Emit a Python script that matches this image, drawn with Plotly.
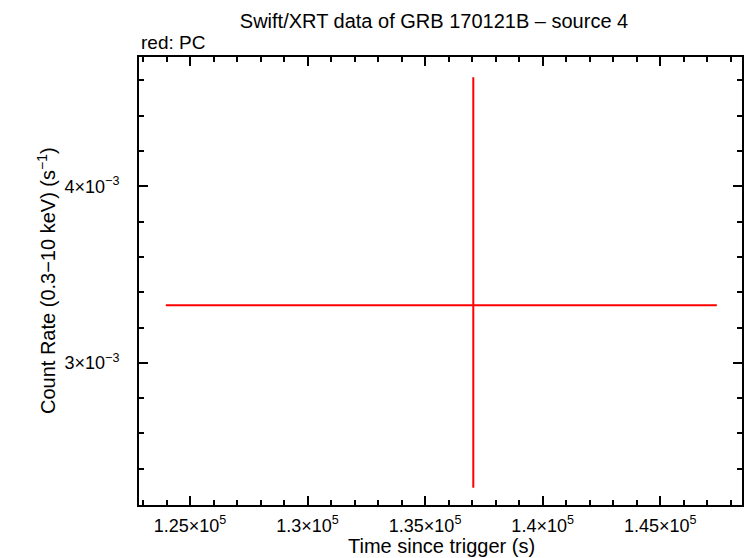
import plotly.graph_objects as go

# Data (single PC-mode bin)
time_s = [137050]
time_err_plus = [10360]
time_err_minus = [13080]
rate = [3.326e-3]
rate_err_plus = [1.291e-3]
rate_err_minus = [1.033e-3]

x_tickvals = [125000, 130000, 135000, 140000, 145000]
x_ticktext = ["1.25×10<sup>5</sup>", "1.3×10<sup>5</sup>", "1.35×10<sup>5</sup>",
              "1.4×10<sup>5</sup>", "1.45×10<sup>5</sup>"]
y_tickvals = [3e-3, 4e-3]
y_ticktext = ["3×10<sup>−3</sup>", "4×10<sup>−3</sup>"]

FONT = "Liberation Sans, Arial, Helvetica, sans-serif"

W, H = 746, 558
L, R, T, B = 139, 4, 57, 53
PW, PH = W - L - R, H - T - B

fig = go.Figure()
fig.add_trace(go.Scatter(
    x=time_s, y=rate, mode="markers",
    marker=dict(size=1, color="red"),
    error_x=dict(type="data", symmetric=False, array=time_err_plus,
                 arrayminus=time_err_minus, color="red", thickness=2, width=0),
    error_y=dict(type="data", symmetric=False, array=rate_err_plus,
                 arrayminus=rate_err_minus, color="red", thickness=2, width=0),
    showlegend=False,
    hoverinfo="skip",
))

axis_common = dict(
    showgrid=False, zeroline=False, showline=True, linecolor="black",
    linewidth=2, ticks="inside", tickcolor="black", tickwidth=2,
    ticklen=9, mirror="allticks",
    tickfont=dict(family=FONT, size=18, color="black"),
)

fig.update_xaxes(
    **axis_common,
    range=[122830, 148480],
    tickmode="array", tickvals=x_tickvals, ticktext=x_ticktext,
    ticklabelstandoff=3,
    minor=dict(tickmode="linear", tick0=0, dtick=1000, ticks="inside",
               ticklen=5, tickwidth=2, tickcolor="black"),
)
fig.update_yaxes(
    **axis_common,
    range=[2.195e-3, 4.732e-3],
    tickmode="array", tickvals=y_tickvals, ticktext=y_ticktext,
    ticklabelstandoff=14,
    minor=dict(tickmode="linear", tick0=0, dtick=0.0002, ticks="inside",
               ticklen=5, tickwidth=2, tickcolor="black"),
)

fig.update_layout(
    width=W, height=H,
    margin=dict(l=L, r=R, t=T, b=B, autoexpand=False),
    paper_bgcolor="white", plot_bgcolor="white",
    font=dict(family=FONT, color="black"),
    title=dict(text="Swift/XRT data of GRB 170121B – source 4", x=434 / W, xanchor="center",
               y=1 - 20.5 / H, yanchor="middle", font=dict(family=FONT, size=20, color="black")),
    annotations=[
        dict(text="red: PC", xref="paper", yref="paper", x=0, xanchor="left",
             y=(H - 42 - B) / PH, yanchor="middle", showarrow=False,
             font=dict(family=FONT, size=19, color="black")),
        dict(text="Time since trigger (s)", xref="paper", yref="paper",
             x=(441 - L) / PW, xanchor="center", y=-(546 - (H - B)) / PH, yanchor="middle",
             showarrow=False, font=dict(family=FONT, size=20, color="black")),
        dict(text="Count Rate (0.3−10 keV) (s<sup>−1</sup>)", xref="paper", yref="paper",
             x=-(L - 46) / PW, xanchor="center", y=0.5, yanchor="middle", textangle=-90,
             showarrow=False, font=dict(family=FONT, size=20, color="black")),
    ],
)

fig.write_html("out.html", config={"displayModeBar": False},
               post_script="document.body.style.margin='0';")
